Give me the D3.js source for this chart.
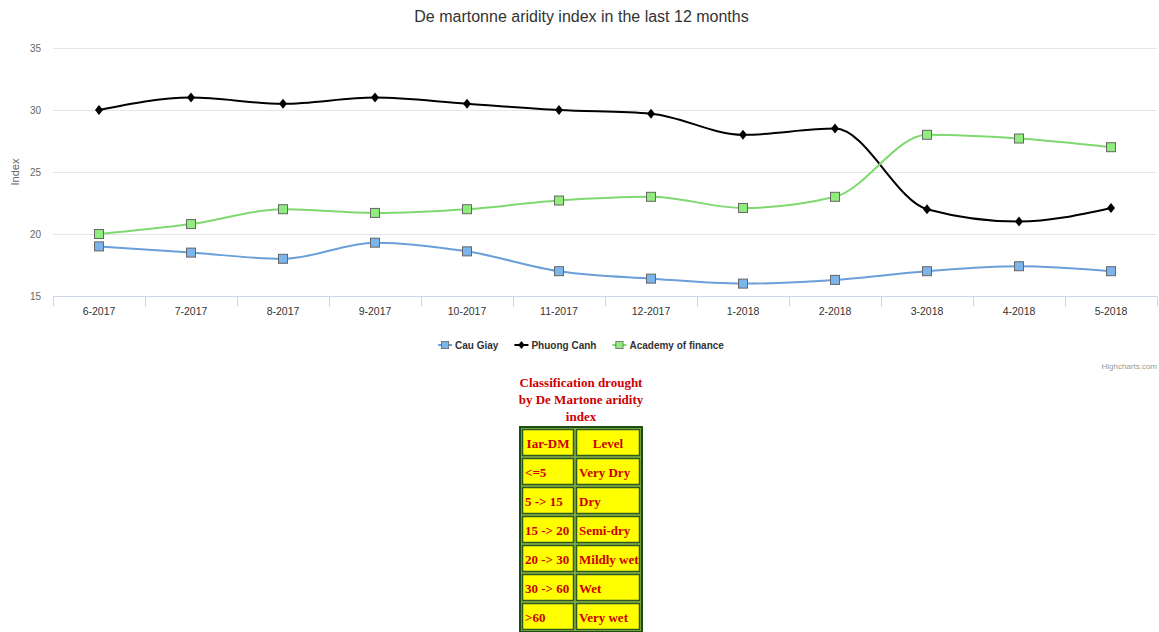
<!DOCTYPE html>
<html>
<head>
<meta charset="utf-8">
<script src="https://cdn.jsdelivr.net/npm/d3@7"></script>
<style>
  body { margin: 0; background: #fff; }
  svg { display: block; font-family: "Liberation Sans", Arial, sans-serif; }
</style>
</head>
<body>
<div id="chart"></div>
<script>
// data
const months = ["6-2017","7-2017","8-2017","9-2017","10-2017","11-2017","12-2017","1-2018","2-2018","3-2018","4-2018","5-2018"];
const cauGiay = [19, 18.5, 18, 19.3, 18.6, 17, 16.4, 16, 16.3, 17, 17.4, 17];
const phuongCanh = [30, 31, 30.5, 31, 30.5, 30, 29.7, 28, 28.5, 22, 21, 22.1];
const academy = [20, 20.8, 22, 21.7, 22, 22.7, 23, 22.1, 23, 28, 27.7, 27];
const yTicks = [15, 20, 25, 30, 35];

const tableHead = ["Iar-DM", "Level"];
const tableRanges = ["<=5", "5 -> 15", "15 -> 20", "20 -> 30", "30 -> 60", ">60"];
const tableLevels = ["Very Dry", "Dry", "Semi-dry", "Mildly wet", "Wet", "Very wet"];

const series = [
  {name: "Cau Giay", values: cauGiay, line: "#6a9fd9", fill: "#7cb5ec", symbol: "square"},
  {name: "Phuong Canh", values: phuongCanh, line: "#000", fill: "#000", symbol: "diamond"},
  {name: "Academy of finance", values: academy, line: "#7fd970", fill: "#90ed7d", symbol: "square"}
]

//constants
const width = 1159, height = 632;
const margins = {top: 48, bottom: 336, left: 53, right: 2};

const svg = d3.select("#chart").append("svg")
  .attr("width", width)
  .attr("height", height)

//scales
const xScale = d3.scaleBand()
  .domain(months)
  .range([margins.left, width - margins.right])
const yScale = d3.scaleLinear()
  .domain([15, 35])
  .range([height - margins.bottom, margins.top])

//title
svg.append("text")
  .attr("x", width/2 + 2)
  .attr("y", 22)
  .attr("text-anchor", "middle")
  .attr("font-size", 16)
  .attr("fill", "#333")
  .text("De martonne aridity index in the last 12 months")

//grid + y labels
svg.selectAll("line.grid")
  .data(yTicks)
  .join("line")
  .attr("class", "grid")
  .attr("x1", margins.left).attr("x2", width - margins.right)
  .attr("y1", d => yScale(d) + 0.5).attr("y2", d => yScale(d) + 0.5)
  .attr("stroke", "#e6e6e6")

svg.selectAll("text.ytick")
  .data(yTicks)
  .join("text")
  .attr("class", "ytick")
  .attr("x", 41)
  .attr("y", d => yScale(d) + 4)
  .attr("text-anchor", "end")
  .attr("font-size", 10)
  .attr("fill", "#666")
  .text(d => d)

svg.append("text")
  .attr("transform", `translate(19,${yScale(25)}) rotate(-90)`)
  .attr("text-anchor", "middle")
  .attr("font-size", 11)
  .attr("fill", "#666")
  .text("Index")

//x axis
const xAxis = svg.append("g")
  .attr("transform", `translate(0,${yScale(15) + 0.5})`)
xAxis.append("line")
  .attr("x1", margins.left).attr("x2", width - margins.right)
  .attr("stroke", "#ccd6eb")
const bounds = months.map(m => xScale(m)).concat([xScale.range()[1]])
xAxis.selectAll("line.tick")
  .data(bounds)
  .join("line")
  .attr("class", "tick")
  .attr("x1", d => Math.round(d) + 0.5).attr("x2", d => Math.round(d) + 0.5)
  .attr("y1", 0).attr("y2", 10)
  .attr("stroke", "#ccd6eb")
xAxis.selectAll("text")
  .data(months)
  .join("text")
  .attr("x", d => xScale(d) + xScale.bandwidth()/2)
  .attr("y", 18)
  .attr("text-anchor", "middle")
  .attr("font-size", 10.5)
  .attr("fill", "#333")
  .text(d => d)

//lines
const line = d3.line()
  .x((d, i) => xScale(months[i]) + xScale.bandwidth()/2)
  .y(d => yScale(d))
  .curve(d3.curveMonotoneX)

svg.selectAll("path.series")
  .data(series)
  .join("path")
  .attr("class", "series")
  .attr("d", d => line(d.values))
  .attr("fill", "none")
  .attr("stroke", d => d.line)
  .attr("stroke-width", 2)

//markers
function marker(g, s) {
  if (s.symbol === "square") {
    g.append("rect")
      .attr("x", -4.5).attr("y", -4.5)
      .attr("width", 9).attr("height", 9)
      .attr("fill", s.fill)
      .attr("stroke", "#666")
      .attr("stroke-width", 1)
  } else {
    g.append("path")
      .attr("d", "M0,-5L4,0L0,5L-4,0Z")
      .attr("fill", s.fill)
  }
}
series.forEach(s => {
  s.values.forEach((v, i) => {
    const g = svg.append("g")
      .attr("transform", `translate(${xScale(months[i]) + xScale.bandwidth()/2},${yScale(v)})`)
    marker(g, s)
  })
})

//legend - laid out one after another, then centred
const legend = svg.append("g")
let lx = 0
series.forEach((s, i) => {
  const g = legend.append("g").attr("transform", `translate(${lx},345)`)
  g.append("line").attr("x1", 0).attr("x2", 14).attr("stroke", s.line).attr("stroke-width", 2)
  const m = g.append("g").attr("transform", "translate(7,0) scale(0.8)")
  marker(m, s)
  const t = g.append("text")
    .attr("x", 17).attr("y", 4)
    .attr("font-size", 10)
    .attr("font-weight", "bold")
    .attr("fill", "#333")
    .text(s.name)
  lx += 17 + t.node().getComputedTextLength() + 16
})
legend.attr("transform", `translate(${581 - (lx - 16)/2},0)`)

//credits
svg.append("text")
  .attr("x", width - 2)
  .attr("y", 369)
  .attr("text-anchor", "end")
  .attr("font-size", 8)
  .attr("fill", "#999")
  .text("Highcharts.com")

//classification table
const tTitle = ["Classification drought", "by De Martone aridity", "index"];
svg.selectAll("text.ttitle")
  .data(tTitle)
  .join("text")
  .attr("class", "ttitle")
  .attr("x", 581)
  .attr("y", (d, i) => 387 + i*17)
  .attr("text-anchor", "middle")
  .attr("font-family", "'Liberation Serif', 'Times New Roman', serif")
  .attr("font-weight", "bold")
  .attr("font-size", 13)
  .attr("fill", "#cc0000")
  .text(d => d)

const rows = [tableHead].concat(tableRanges.map((r, i) => [r, tableLevels[i]]));
const tX = 520, tY = 427, rowH = 29, colW = [54, 66];
svg.append("rect")
  .attr("x", tX).attr("y", tY)
  .attr("width", colW[0] + colW[1] + 2).attr("height", rows.length*rowH + 2)
  .attr("fill", "#8db04a")
  .attr("stroke", "#1e4d14")
  .attr("stroke-width", 2)
rows.forEach((r, i) => {
  r.forEach((c, j) => {
    const x = tX + 2 + (j === 0 ? 0 : colW[0]);
    const y = tY + 2 + i*rowH;
    svg.append("rect")
      .attr("x", x + 0.5).attr("y", y + 0.5)
      .attr("width", colW[j] - 3).attr("height", rowH - 3)
      .attr("fill", "#ffff00")
      .attr("stroke", "#2b5a1c")
      .attr("stroke-width", 1.5)
    svg.append("text")
      .attr("x", i === 0 ? x + (colW[j] - 2)/2 : x + 3)
      .attr("y", y + rowH/2 + 4)
      .attr("text-anchor", i === 0 ? "middle" : "start")
      .attr("font-family", "'Liberation Serif', 'Times New Roman', serif")
      .attr("font-weight", "bold")
      .attr("font-size", 13)
      .attr("fill", "#cc0000")
      .text(c)
  })
})
</script>
</body>
</html>
